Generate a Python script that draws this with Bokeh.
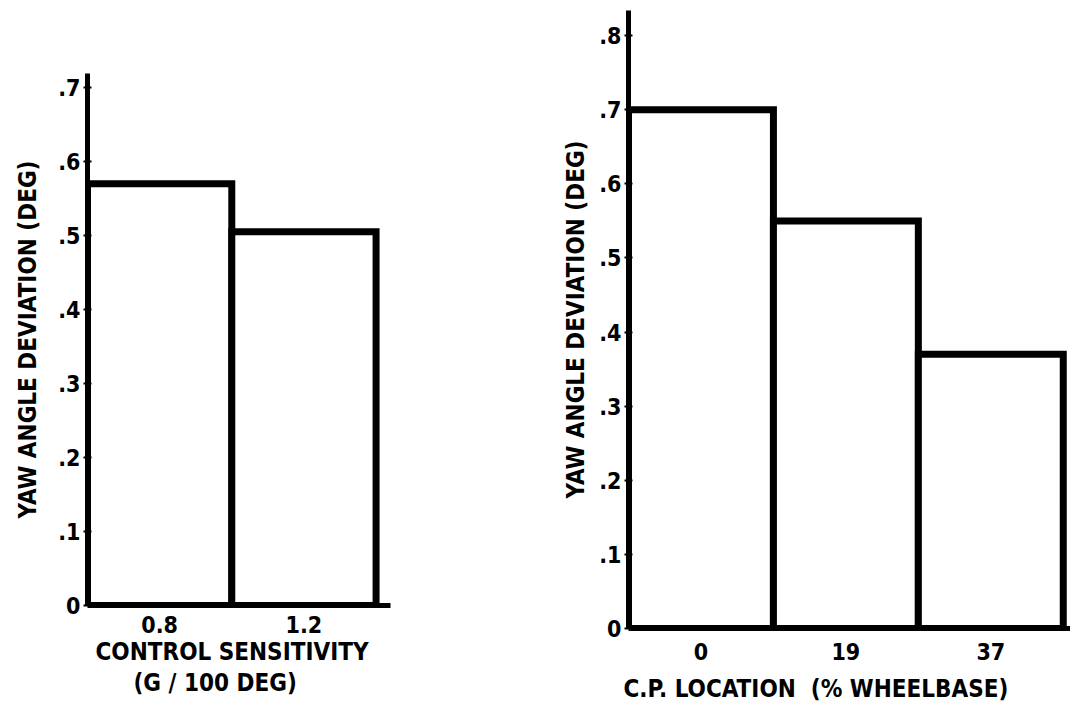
from bokeh.plotting import figure
from bokeh.layouts import row, column
from bokeh.models import ColumnDataSource, FixedTicker, CustomJSTickFormatter, Range1d, Title
from bokeh.embed import file_html
from bokeh.resources import INLINE

# ---- data ----
left_cats = ["0.8", "1.2"]
left_vals = [0.57, 0.505]
left_yticks = [0, 0.1, 0.2, 0.3, 0.4, 0.5, 0.6, 0.7]

right_cats = ["0", "19", "37"]
right_vals = [0.70, 0.55, 0.37]
right_yticks = [0, 0.1, 0.2, 0.3, 0.4, 0.5, 0.6, 0.7, 0.8]

y_title = "YAW ANGLE DEVIATION (DEG)"
left_xtitle = ["CONTROL SENSITIVITY", "(G / 100 DEG)"]
right_xtitle = ["C.P. LOCATION\u00a0\u00a0(% WHEELBASE)"]

FONT = "DejaVu Sans Condensed"


def make(cats, vals, yticks, ymax, xmax, w, h, bl, br, bt, bb, ystand, xstand):
    p = figure(width=w, height=h, x_range=Range1d(0, xmax), y_range=Range1d(0, ymax),
               output_backend="svg", toolbar_location=None,
               min_border_left=bl, min_border_right=br, min_border_top=bt, min_border_bottom=bb)
    xs = [i + 0.5 for i in range(len(cats))]
    src = ColumnDataSource(dict(x=xs, top=vals))
    p.vbar(x="x", top="top", bottom=0, width=1.0, source=src,
           fill_color="white", line_color="black", line_width=7, line_join="miter")
    p.grid.visible = False
    p.outline_line_color = None
    p.background_fill_color = "white"
    p.border_fill_color = "white"

    xa = p.xaxis[0]
    xa.ticker = FixedTicker(ticks=xs)
    xa.formatter = CustomJSTickFormatter(args=dict(cats=cats), code="return cats[Math.floor(tick)];")
    xa.axis_line_width = 5
    xa.axis_line_color = "black"
    xa.major_tick_out = 0
    xa.major_tick_in = 0
    xa.minor_tick_out = 0
    xa.minor_tick_in = 0
    xa.major_label_text_font = FONT
    xa.major_label_text_font_style = "bold"
    xa.major_label_text_font_size = "23px"
    xa.major_label_text_color = "black"
    xa.major_label_standoff = xstand

    ya = p.yaxis[0]
    ya.ticker = FixedTicker(ticks=yticks)
    ya.formatter = CustomJSTickFormatter(code="return tick < 1e-9 ? '0' : tick.toFixed(1).replace(/^0/, '');")
    ya.axis_line_width = 5
    ya.axis_line_color = "black"
    ya.major_tick_out = 4
    ya.major_tick_in = 4
    ya.major_tick_line_width = 2
    ya.minor_tick_out = 0
    ya.minor_tick_in = 0
    ya.major_label_text_font = FONT
    ya.major_label_text_font_style = "bold"
    ya.major_label_text_font_size = "23px"
    ya.major_label_text_color = "black"
    ya.major_label_standoff = 3
    ya.axis_label = y_title
    ya.axis_label_text_font = FONT
    ya.axis_label_text_font_style = "bold"
    ya.axis_label_text_font_size = "24px"
    ya.axis_label_text_color = "black"
    ya.axis_label_standoff = ystand
    return p


def add_titles(p, lines, offsets, standoffs):
    for txt, off, st in zip(lines, offsets, standoffs):
        p.add_layout(Title(text=txt, align="left", offset=off, standoff=st,
                           text_font=FONT, text_font_style="bold", text_font_size="24px",
                           text_color="black"), "below")


p1 = make(left_cats, left_vals, left_yticks, 0.719, 2.1, 470, 716, 87, 80, 73, 111, 13, 10)
add_titles(p1, left_xtitle, [8, 46], [0, 2])

p2 = make(right_cats, right_vals, right_yticks, 0.834, 3.05, 600, 716, 158, 0, 10, 88, 6, 14)
add_titles(p2, right_xtitle, [-5], [20])

layout = row(column(p1), column(p2))
open("out.html", "w").write(file_html(layout, INLINE))
